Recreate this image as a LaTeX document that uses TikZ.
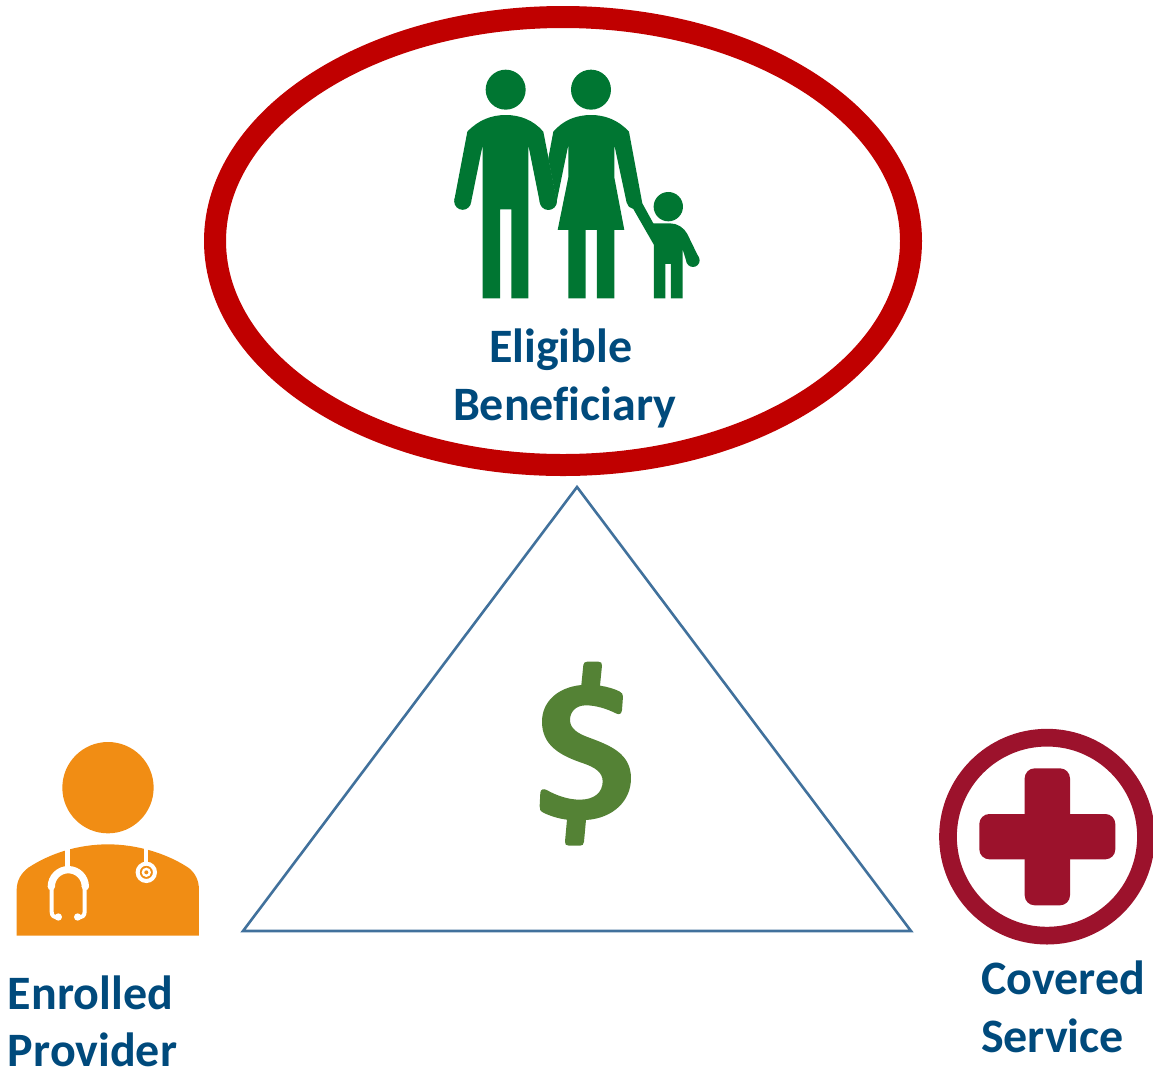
\documentclass[tikz,border=0pt]{standalone}
\usepackage{fontspec}
\setmainfont{Carlito}[Ligatures=NoCommon]
\definecolor{ringred}{HTML}{C00000}
\definecolor{famgreen}{HTML}{007632}
\definecolor{docorange}{HTML}{F18D14}
\definecolor{crossred}{HTML}{9C122C}
\definecolor{dollargreen}{HTML}{548235}
\definecolor{labelblue}{HTML}{004A7C}
\definecolor{triblue}{HTML}{41719C}
\tikzset{
  lab/.style={anchor=base west,inner sep=0pt,outer sep=0pt,text=labelblue,font=\fontsize{48}{56}\selectfont\bfseries},
  zoomscale/.style={x=0.3333pt,y=-0.3333pt},
}
\begin{document}
\begin{tikzpicture}[x=1pt,y=-1pt]
\useasboundingbox (0,0) rectangle (1153,1072);
% ellipse
\draw[ringred,line width=22pt] (563,241) ellipse [x radius=348,y radius=224];
% triangle
\coordinate (apex) at (577,487);
\coordinate (bl) at (243,931);
\coordinate (br) at (911,931);
\draw[triblue,line width=2.6pt,line join=miter] (apex) -- (bl) -- (br) -- cycle;
% dollar sign
\begin{scope}[shift={(520,650)},zoomscale]
\fill[dollargreen] (184,105) -- (190,45) .. controls (191,38) and (195,35) .. (202,35)
  -- (235,35) .. controls (243,35) and (247,39) .. (246,47) -- (240,107)
  .. controls (262,110) and (284,117) .. (298,124) .. controls (306,128) and (309,132) .. (309,140)
  -- (306,180) .. controls (305,191) and (298,195) .. (290,191)
  .. controls (260,176) and (228,166) .. (197,166)
  .. controls (168,166) and (150,185) .. (150,210)
  .. controls (150,235) and (172,250) .. (205,262)
  .. controls (270,286) and (333,310) .. (333,385)
  .. controls (333,452) and (280,505) .. (198,510)
  -- (192,575) .. controls (191,584) and (187,587) .. (180,587)
  -- (147,587) .. controls (138,587) and (134,583) .. (135,575) -- (141,509)
  .. controls (115,506) and (88,497) .. (70,488)
  .. controls (61,483) and (58,478) .. (59,468)
  -- (61,428) .. controls (62,418) and (70,415) .. (80,420)
  .. controls (110,437) and (145,449) .. (180,449)
  .. controls (222,449) and (248,428) .. (248,394)
  .. controls (248,367) and (225,352) .. (190,340)
  .. controls (118,316) and (66,285) .. (66,215)
  .. controls (66,155) and (113,112) .. (184,105) -- cycle;
\end{scope}
% family
\begin{scope}[shift={(440,60)},zoomscale]
\fill[famgreen] (197,89) circle [radius=60];
\fill[famgreen] (453,89) circle [radius=60];
\fill[famgreen] (685,440) circle [radius=44];
% man
\fill[famgreen] (82,215) .. controls (115,180) and (155,165) .. (197,165)
  .. controls (240,165) and (280,180) .. (310,215) -- (350,420) -- (300,430)
  -- (265,255) -- (265,715) -- (214,715) -- (214,448) -- (180,448) -- (180,715) -- (128,715) -- (128,255)
  -- (93,428) -- (43,420) -- cycle;
\fill[famgreen] (325,424) circle [radius=26];
\fill[famgreen] (68,424) circle [radius=25.5];
% woman
\fill[famgreen] (340,215) .. controls (370,180) and (410,165) .. (453,165)
  .. controls (495,165) and (535,180) .. (567,215) -- (607,430) -- (640,490) -- (690,490)
  .. controls (712,490) and (732,503) .. (742,522) -- (777,594) -- (741,610)
  -- (728,568) -- (728,715) -- (693,715) -- (693,612) -- (676,612) -- (676,715) -- (642,715) -- (642,555)
  -- (580,447) .. controls (570,445) and (562,438) .. (560,428)
  -- (523,255) -- (523,352) -- (553,510) -- (523,510) -- (523,715) -- (471,715) -- (471,510) -- (437,510)
  -- (437,715) -- (385,715) -- (385,510) -- (353,510) -- (385,352) -- (385,255) -- (350,425)
  -- (325,295) -- cycle;
\fill[famgreen] (759,601) circle [radius=20];
\end{scope}
% provider
\begin{scope}[shift={(0,730)},zoomscale]
\fill[docorange] (324,173) circle [radius=137];
\fill[docorange] (50,617) -- (50,480) .. controls (50,450) and (65,428) .. (85,413)
  .. controls (150,370) and (235,343) .. (324,343)
  .. controls (410,343) and (500,370) .. (565,413)
  .. controls (585,428) and (597,450) .. (597,480) -- (597,617) -- cycle;
\draw[white,line width=4.6pt] (203,340) -- (203,418);
\draw[white,line width=7.3pt] (154,470) arc [start angle=180,end angle=360,radius=51];
\draw[white,line width=4pt,line join=round] (155,465) -- (155,545) .. controls (155,558) and (162,562) .. (175,562);
\draw[white,line width=4pt,line join=round] (254,465) -- (254,545) .. controls (254,558) and (247,562) .. (233,562);
\fill[white] (175,561) circle [radius=11];
\fill[white] (233,561) circle [radius=11];
\fill[white] (154,470) circle [radius=11];
\fill[white] (256,470) circle [radius=11];
\draw[white,line width=4pt] (439,340) -- (439,400);
\draw[white,line width=4pt] (439,427) circle [radius=26];
\fill[white] (439,427) circle [radius=14];
\fill[docorange] (439,427) circle [radius=6];
\end{scope}
% cross
\begin{scope}[shift={(930,720)},zoomscale]
\draw[crossred,line width=17.7pt] (351,350) circle [radius=297];
\fill[crossred,rounded corners=10pt] (284,145) rectangle (420,556);
\fill[crossred,rounded corners=10pt] (148,282) rectangle (556,418);
\end{scope}
% labels
\node[lab] (l1) at (489,362) {Eligible};
\node[lab] (l2) at (453,420) {Beneficiary};
\node[lab] (l3) at (8,1009) {Enrolled};
\node[lab] (l4) at (8,1066) {Provider};
\node[lab] (l5) at (981,994) {Covered};
\node[lab] (l6) at (981,1052) {Service};
\end{tikzpicture}
\end{document}
